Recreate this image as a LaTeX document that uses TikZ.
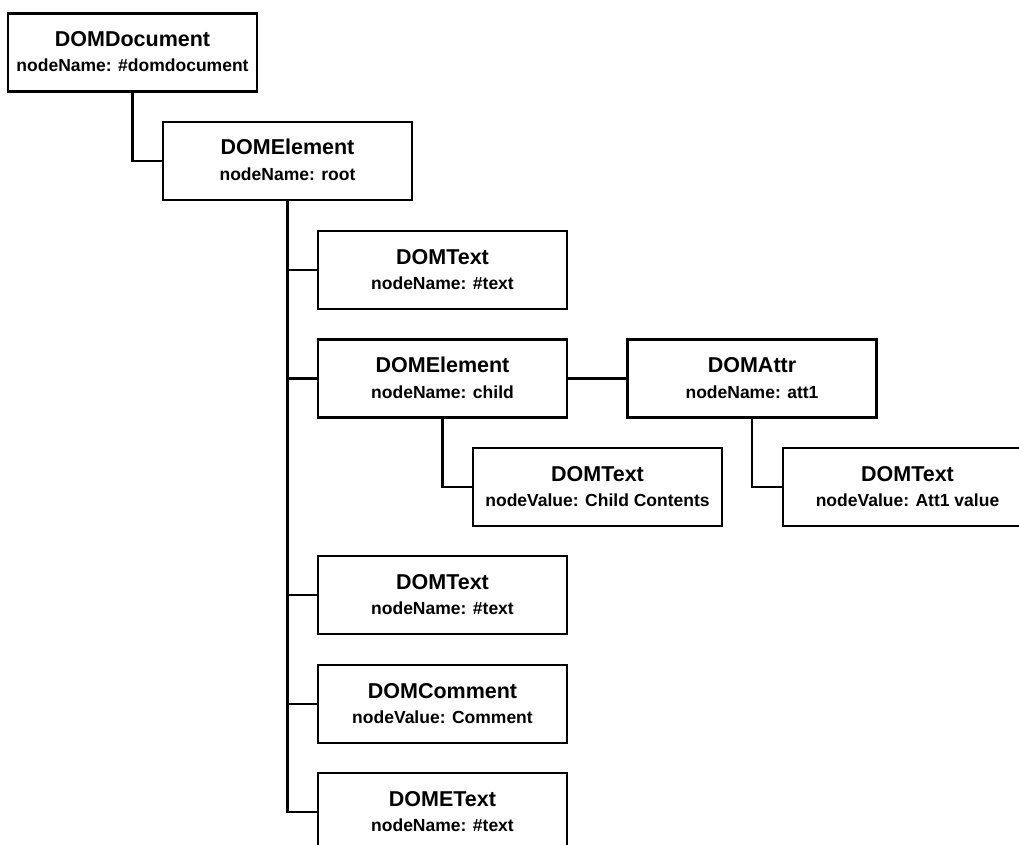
\documentclass[tikz,border=0pt]{standalone}
\usepackage{fontspec}
\setmainfont{Liberation Sans}
% A DOM tree node: box with a type title and a name/value line
\newcommand\domnode[5]{%
  \node[box] (#1) at (#2) {};
  \node[titletext, yshift=6pt] (#1-title) at (#1.center) {#3};
  \node[subtext, yshift=-19.5pt] (#1-sub) at (#1.center) {#4#5};
}
\begin{document}
\begin{tikzpicture}[x=1pt,y=-1pt,
  box/.style={draw, line width=2.6pt, minimum width=249pt, minimum height=78pt, inner sep=0pt},
  titletext/.style={anchor=base, inner sep=0pt, font=\bfseries\fontsize{21.5}{24}\selectfont},
  subtext/.style={anchor=base, inner sep=0pt, font=\bfseries\fontsize{17.5}{20}\selectfont},
  wire/.style={line width=2.6pt}]
\useasboundingbox (0,0) rectangle (1019,845);
\clip (0,0) rectangle (1019,845);

\domnode{doc}{132.5,52.5}{DOMDocument}{nodeName: }{\#domdocument}
\domnode{root}{287.5,161}{DOMElement}{nodeName: }{root}
\domnode{textA}{442.5,270}{DOMText}{nodeName: }{\#text}
\domnode{child}{442.5,378.5}{DOMElement}{nodeName: }{child}
\domnode{attr}{752,378.5}{DOMAttr}{nodeName: }{att1}
\domnode{childtext}{597.5,487}{DOMText}{nodeValue: }{Child Contents}
\domnode{attrtext}{907.5,487}{DOMText}{nodeValue: }{Att1 value}
\domnode{textB}{442.5,595}{DOMText}{nodeName: }{\#text}
\domnode{comment}{442.5,704}{DOMComment}{nodeValue: }{Comment}
\domnode{etext}{442.5,812}{DOMEText}{nodeName: }{\#text}

% tree connectors
\draw[wire] (doc.south) |- (root.west);
\draw[wire] (root.south) |- (textA.west);
\draw[wire] (root.south) |- (child.west);
\draw[wire] (root.south) |- (textB.west);
\draw[wire] (root.south) |- (comment.west);
\draw[wire] (root.south) |- (etext.west);
\draw[wire] (child.east) -- (attr.west);
\draw[wire] (child.south) |- (childtext.west);
\draw[wire] (attr.south) |- (attrtext.west);
\end{tikzpicture}
\end{document}
